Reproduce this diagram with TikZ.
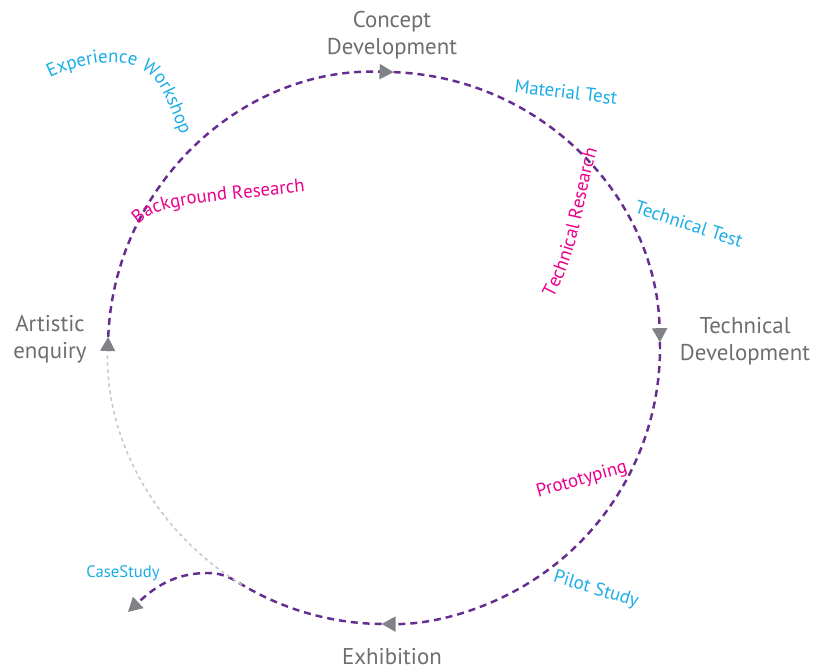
\documentclass[tikz,border=0pt]{standalone}
\usepackage{fontspec}
\setmainfont{PT Sans}
\usetikzlibrary{arrows.meta,decorations.text}

\definecolor{loopviolet}{HTML}{662D91}
\definecolor{stagegray}{HTML}{6D6E71}
\definecolor{tipgray}{HTML}{808285}
\definecolor{skipgray}{HTML}{C7C8CA}
\definecolor{testcyan}{HTML}{1BADE6}
\definecolor{researchpink}{HTML}{EC008C}

\newcommand\stagefont{\fontsize{13}{15.5}\selectfont}
\newcommand\tasklabel{\fontsize{10.7}{12.5}\selectfont}
\newcommand\casefont{\fontsize{9.5}{11}\selectfont}

\begin{document}
\begin{tikzpicture}[x=0.02cm, y=0.02cm,
  loopline/.style={loopviolet, line width=1.4pt, dash pattern=on 4pt off 2.8pt,
    -{Triangle[length=8pt, width=8.5pt, color=tipgray]}},
  skipline/.style={skipgray, line width=0.9pt, dash pattern=on 2pt off 2pt,
    -{Triangle[length=8pt, width=8.5pt, color=tipgray]}},
  stage/.style={stagegray, align=center, font=\stagefont},
  testlabel/.style={testcyan, font=\tasklabel},
  researchlabel/.style={researchpink, font=\tasklabel},
]

% Canvas, origin in the middle of the loop (radius 276)
\useasboundingbox (-384,-321) rectangle (431,348);
\coordinate (hub) at (0,0);
\coordinate (caseend) at (-256,-264);

% The four stages
\node[stage] (concept) at (8,313) {Concept\\Development};
\node[stage] (techdev) at (361,7) {Technical\\Development};
\node[stage] (exhibition) at (8,-309) {Exhibition};
\node[stage] (artistic) at (-334,9) {Artistic\\enquiry};

% Dashed loop, clockwise from the enquiry
\draw[loopline] (hub) ++(177.7:276) arc[start angle=177.7, end angle=88, radius=276];
\draw[loopline] (hub) ++(88:276) arc[start angle=88, end angle=1.2, radius=276];
\draw[loopline] (hub) ++(1.2:276) arc[start angle=1.2, end angle=-90.5, radius=276];
\draw[loopline] (hub) ++(-90.5:276) arc[start angle=-90.5, end angle=-121, radius=276]
  to[out=149, in=0] (-176,-225) to[out=180, in=43] (caseend);

% Light way back up to the enquiry
\draw[skipline] (hub) ++(-121:276) arc[start angle=-121, end angle=-182.3, radius=276];

% Tests and research along the loop
\node[testlabel, rotate=-7] (material) at (182,256) {Material Test};
\node[testlabel, rotate=-18] (techtest) at (305,124) {Technical Test};
\node[researchlabel, rotate=16] (prototyping) at (198,-132) {Prototyping};
\node[testlabel, rotate=-17] (pilot) at (212,-242) {Pilot Study};
\node[testlabel, font=\casefont] (casestudy) at (-261,-225) {CaseStudy};

% Bent labels
\path[decorate, decoration={text along path, text color=testcyan,
    text={|\tasklabel|Experience Workshop}}]
  (-334,270) .. controls (-291,290) and (-249,292) .. (-229,268)
  .. controls (-219,256) and (-214,240) .. (-196,195);
\path[decorate, decoration={text along path, text color=researchpink,
    text={|\tasklabel|Background Research}}]
  (-246,123) .. controls (-224,145) and (-184,145) .. (-60,158);
\path[decorate, decoration={text along path, text color=researchpink,
    text={|\tasklabel|Technical Research}}]
  (169,50) .. controls (203,113) and (199,170) .. (220,215);

\end{tikzpicture}
\end{document}
